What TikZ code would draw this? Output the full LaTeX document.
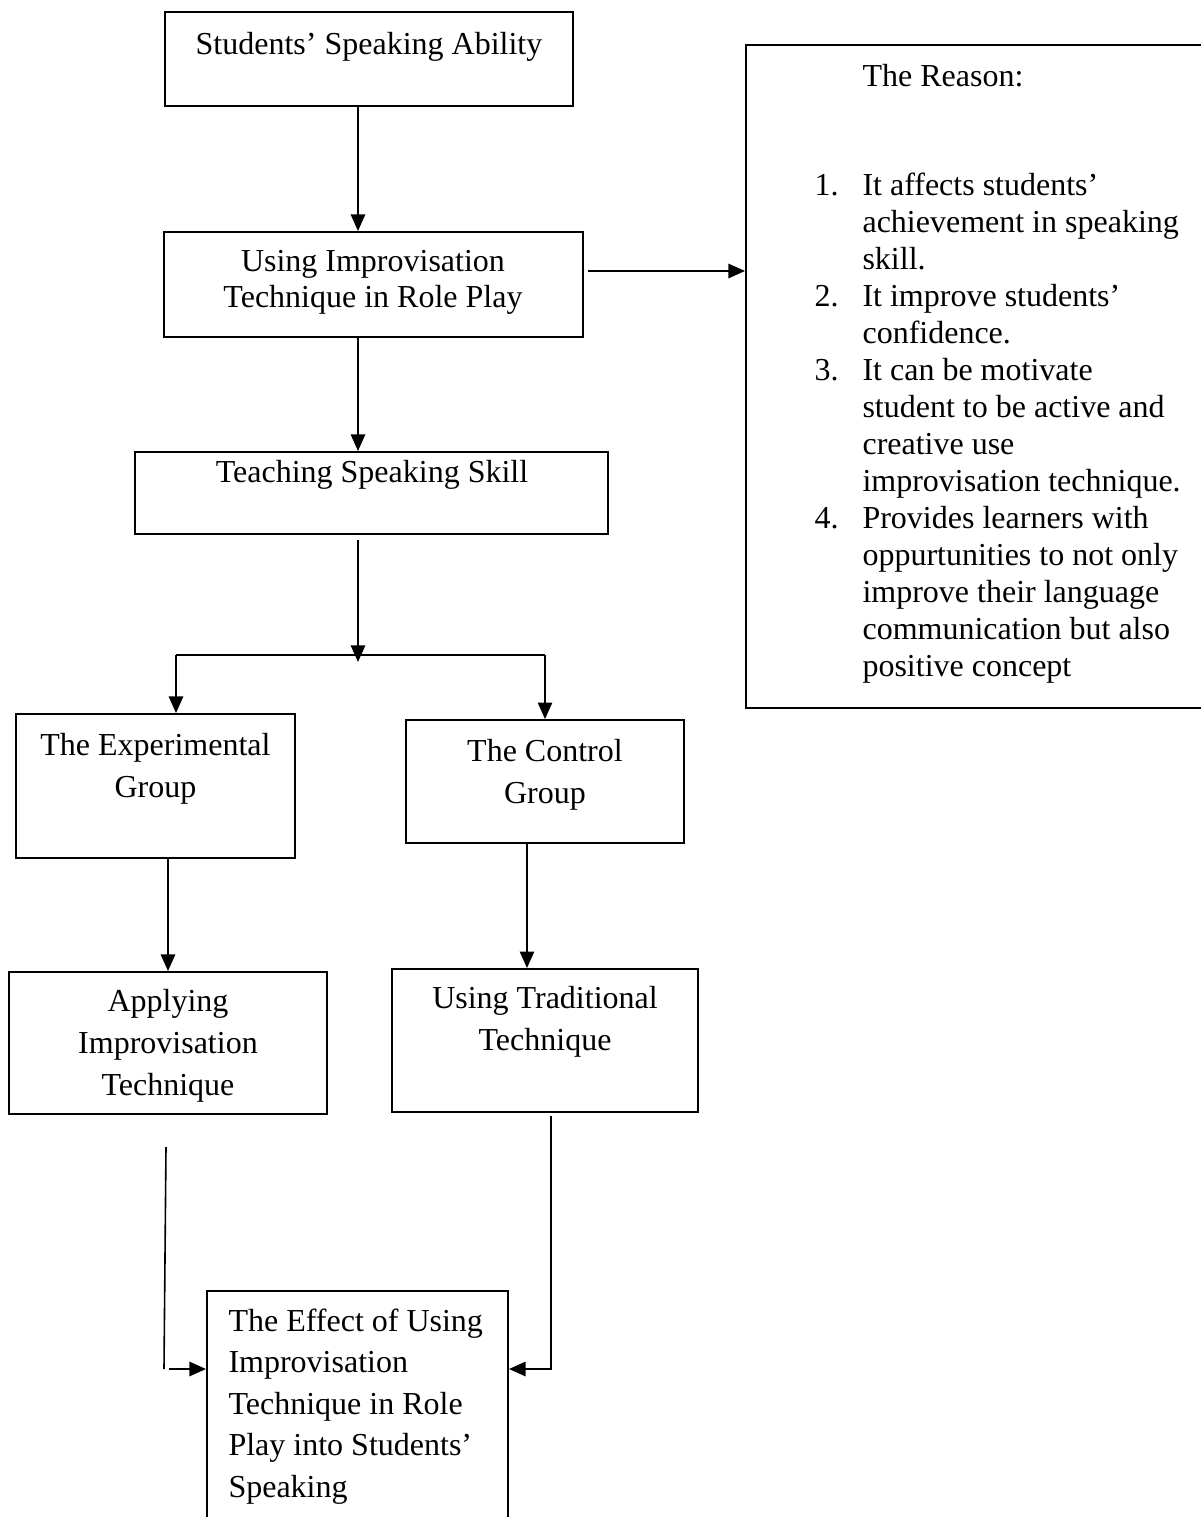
\documentclass[tikz,border=0pt]{standalone}
\usepackage{fontspec}
\setmainfont{Liberation Serif}
\usetikzlibrary{positioning, arrows.meta, calc}
\tikzset{
  box/.style={draw, line width=0.75pt, inner sep=0pt},
  lbl/.style={anchor=base, align=flush center, inner sep=0pt, font=\fontsize{12}{15.75}\selectfont},
  arr/.style={-{Triangle[length=6.2pt,width=5.4pt]}, line width=0.6pt},
  link/.style={line width=0.6pt}
}

\begin{document}
\begin{tikzpicture}[x=0.375pt, y=-0.375pt]
  \useasboundingbox (0,0) rectangle (1200,1517);
  % kotak-kotak alur (ukuran dalam pt, posisi dalam px)
  \node[box, minimum width=153pt, minimum height=35.25pt] (ssa) at (369,59) {};
  \node[box, minimum width=157.1pt, minimum height=39.4pt] (iti) at (373.5,284.5) {};
  \node[box, minimum width=177.4pt, minimum height=30.75pt] (tss) at (371.5,493) {};
  \node[box, minimum width=104.6pt, minimum height=54pt] (exg) at (155.5,786) {};
  \node[box, minimum width=104.25pt, minimum height=46.1pt] (ctg) at (545,781.5) {};
  \node[box, minimum width=119.25pt, minimum height=53.25pt] (app) at (168,1043) {};
  \node[box, minimum width=114.75pt, minimum height=53.6pt] (trd) at (545,1040.5) {};
  \node[box, minimum width=112.9pt, minimum height=93.4pt] (eff) at (357.5,1415.5) {};
  \node[box, minimum width=177.75pt, minimum height=248.6pt] (rsn) at (983,376.5) {};

  \node[lbl] (ssa-t) at (369,54) {Students' Speaking Ability};
  \node[lbl, text width=150pt, font=\fontsize{12}{13.7}\selectfont] (iti-t) at (373,271) {Using Improvisation\\Technique in Role Play};
  \node[lbl] (tss-t) at (372,482) {Teaching Speaking Skill};
  \node[lbl, text width=100pt] (exg-t) at (155.5,755) {The Experimental\\Group};
  \node[lbl, text width=100pt] (ctg-t) at (545,761) {The Control\\Group};
  \node[lbl, text width=110pt] (app-t) at (168,1011) {Applying\\Improvisation\\Technique};
  \node[lbl, text width=110pt] (trd-t) at (545,1008) {Using Traditional\\Technique};
  \node[lbl, anchor=base west, align=flush left, text width=110pt, font=\fontsize{12}{15.6}\selectfont] (eff-t) at (228,1331)
    {The Effect of Using\\Improvisation\\Technique in Role\\Play into Students'\\Speaking};

  % alasan: judul dan daftar bernomor
  \node[lbl, anchor=base west] (rsn-t) at (862,86) {The Reason:};
  \node[lbl, anchor=base west, align=left, font=\fontsize{12}{13.9}\selectfont] (rsn-l) at (814,195) {%
    \begin{tabular}[t]{@{}p{18pt}@{}l@{}}
      1. & It affects students' \\
         & achievement in speaking \\
         & skill. \\
      2. & It improve students' \\
         & confidence. \\
      3. & It can be motivate \\
         & student to be active and \\
         & creative use \\
         & improvisation technique. \\
      4. & Provides learners with \\
         & oppurtunities to not only \\
         & improve their language \\
         & communication but also \\
         & positive concept
    \end{tabular}};

  % panah
  \coordinate (spine) at (358,0);
  \draw[arr] (ssa.south -| spine) -- (iti.north -| spine);
  \draw[arr] (iti.south -| spine) -- (tss.north -| spine);
  \coordinate (rsnstart) at (588,271);
  \draw[arr] (rsnstart) -- (rsnstart -| rsn.west);

  \coordinate (fork) at (358,655);
  \coordinate (forkL) at (176,655);
  \coordinate (forkR) at (545,655);
  \draw[arr] ([yshift=-2pt]tss.south -| fork) -- ([yshift=-2.6pt]fork);
  \draw[link] (forkL) -- (forkR);
  \draw[arr] (forkL) -- (forkL |- exg.north);
  \draw[arr] (forkR) -- (forkR |- ctg.north);

  \draw[arr] (exg.south -| app.north) -- (app.north);
  \coordinate (ctrlx) at (527,0);
  \draw[arr] (ctg.south -| ctrlx) -- (trd.north -| ctrlx);

  % garis kiri tidak menyambung ke panahnya, seperti aslinya
  \coordinate (ltop) at (166,1147);
  \coordinate (lbot) at (164,1369);
  \coordinate (lgap) at (169,1369);
  \draw[link] (ltop) -- (lbot);
  \draw[arr] (lgap) -- (lgap -| eff.west);
  \coordinate (rbot) at (551,1369);
  \draw[arr] ([yshift=-1pt]trd.south -| rbot) -- (rbot) -- (rbot -| eff.east);
\end{tikzpicture}
\end{document}
